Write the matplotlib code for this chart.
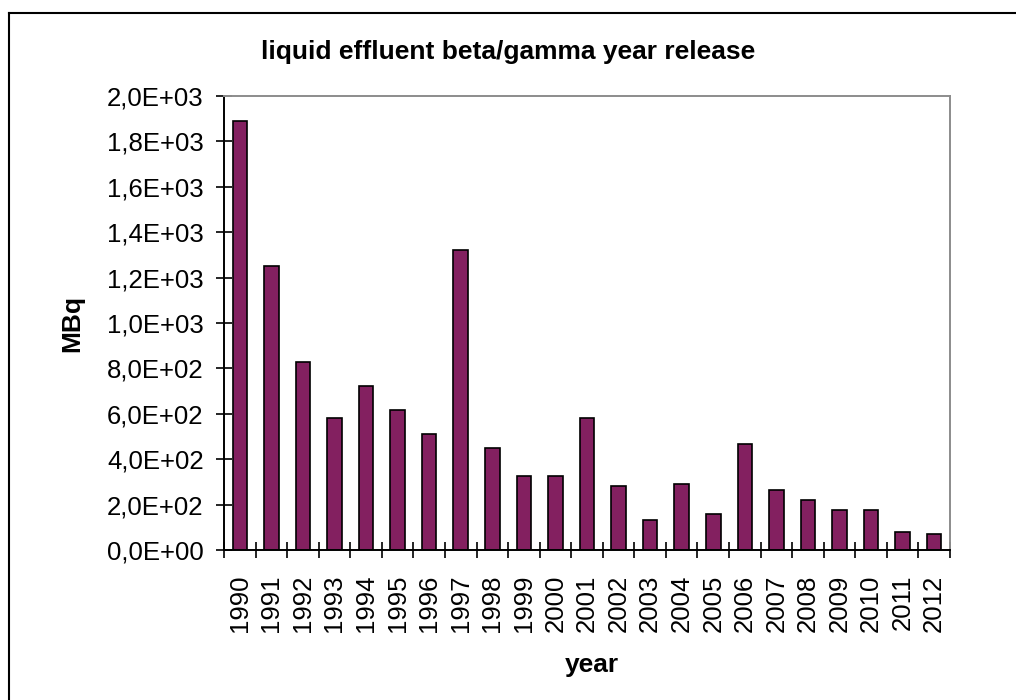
import matplotlib
matplotlib.use('Agg')
import matplotlib.pyplot as plt
import numpy as np
from matplotlib.ticker import FuncFormatter, FixedLocator
from matplotlib.lines import Line2D

plt.rcParams['font.family'] = ['Liberation Sans', 'DejaVu Sans']

years = ['1990', '1991', '1992', '1993', '1994', '1995', '1996', '1997',
         '1998', '1999', '2000', '2001', '2002', '2003', '2004', '2005',
         '2006', '2007', '2008', '2009', '2010', '2011', '2012']
release_mbq = [1890, 1250, 827, 582, 722, 616, 510, 1320,
               450, 326, 326, 581, 282, 132, 290, 158,
               467, 264, 220, 176, 176, 79, 70]

W, H = 1016, 700
fig = plt.figure(figsize=(W/100, H/100), dpi=100)
ax = fig.add_axes([224/W, 1-550/H, (950-224)/W, (550-96)/H])

x = np.arange(len(years))
ax.bar(x, release_mbq, width=0.46, color='#832060', edgecolor='black', linewidth=1.2)

ax.set_xlim(-0.5, len(years)-0.5)
ax.set_ylim(0, 2000)
ax.set_yticks(np.arange(0, 2001, 200))
ax.yaxis.set_major_formatter(FuncFormatter(lambda v, p: f"{v:.1E}".replace('.', ',')))
ax.tick_params(axis='y', direction='inout', length=11.5, width=1.2, pad=9, labelsize=18.5, color='black')

ax.set_xticks(x)
ax.set_xticklabels(years, rotation=90, fontsize=18.5)
ax.xaxis.set_minor_locator(FixedLocator(np.arange(-0.5, len(years), 1)))
ax.tick_params(axis='x', which='major', length=0, pad=18)
ax.tick_params(axis='x', which='minor', direction='inout', length=11.5, width=1.2)

for s in ['left', 'bottom']:
    ax.spines[s].set_color('black')
    ax.spines[s].set_linewidth(1.4)
for s in ['top', 'right']:
    ax.spines[s].set_color('#8c8c8c')
    ax.spines[s].set_linewidth(1.4)

fig.text(508/W, 1-52/H, 'liquid effluent beta/gamma year release', ha='center', va='center',
         fontsize=19, fontweight='bold')
fig.text(592/W, 1-665/H, 'year', ha='center', va='center', fontsize=19, fontweight='bold')
fig.text(72/W, 1-323/H, 'MBq', ha='center', va='center', rotation=90, fontsize=19, fontweight='bold')

# outer chart frame (right and bottom are cut off in the picture)
fig.add_artist(Line2D([9/W, 1], [1-13/H, 1-13/H], color='black', lw=1.5, transform=fig.transFigure))
fig.add_artist(Line2D([9/W, 9/W], [0, 1-13/H], color='black', lw=1.5, transform=fig.transFigure))

fig.savefig('out.png', dpi=100)
